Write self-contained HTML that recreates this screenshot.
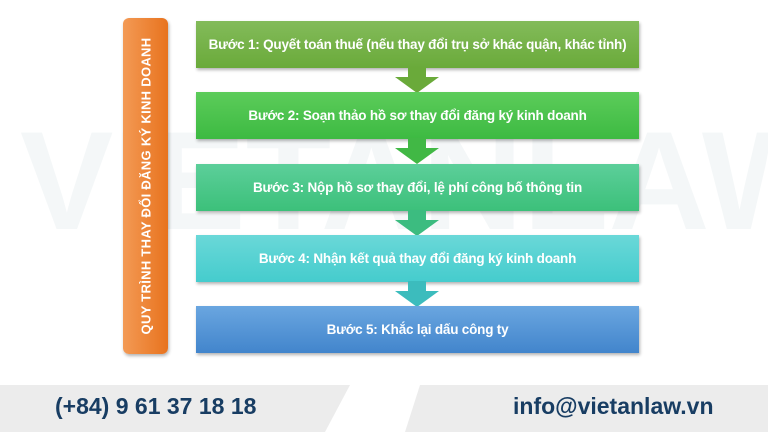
<!DOCTYPE html>
<html><head><meta charset="utf-8"><style>
html,body{margin:0;padding:0}
body{width:768px;height:432px;background:#fff;position:relative;overflow:hidden;font-family:"Liberation Sans",sans-serif}
.wm{position:absolute;left:0;top:0;width:768px;height:385px;overflow:hidden}
.wm div{position:absolute;left:20px;top:100px;font-size:140px;font-weight:bold;color:#f4f7f8;white-space:nowrap}
.box{position:absolute;left:196px;width:443px;height:47px;color:#fff;font-weight:bold;font-size:13.5px;display:flex;align-items:center;justify-content:center;box-shadow:1px 2px 3px rgba(0,0,0,.3);letter-spacing:-0.2px;white-space:nowrap}
.arr{position:absolute;left:395px;width:44px;height:26px}
.bar{position:absolute;left:123px;top:18px;width:45px;height:336px;border-radius:6px;background:linear-gradient(90deg,#f39a55,#e8731e);box-shadow:1px 2px 3px rgba(0,0,0,.3)}
.bar span{position:absolute;left:50%;top:50%;transform:translate(-50%,-50%) rotate(-90deg);white-space:nowrap;color:#fff;font-weight:bold;font-size:13px;letter-spacing:0.3px}
.foot{position:absolute;left:0;top:385px;width:768px;height:47px;background:#ececec}
.ft{position:absolute;top:393px;font-size:23px;font-weight:bold;color:#183d63;white-space:nowrap}
</style></head><body>
<div class="wm"><div>VIETANLAW</div></div>
<div class="bar"><span>QUY TRÌNH THAY ĐỔI ĐĂNG KÝ KINH DOANH</span></div>
<div class="box" style="top:21px;background:linear-gradient(#83bb5a,#6aaa3a)">Bước 1: Quyết toán thuế (nếu thay đổi trụ sở khác quận, khác tỉnh)</div>
<svg class="arr" style="top:67px" viewBox="0 0 44 26"><polygon points="13,0 31,0 31,10 44,10 22,26 0,10 13,10" fill="#6aaa3a"/></svg>
<div class="box" style="top:92px;background:linear-gradient(#5ccc5a,#3dba42)">Bước 2: Soạn thảo hồ sơ thay đổi đăng ký kinh doanh</div>
<svg class="arr" style="top:138px" viewBox="0 0 44 26"><polygon points="13,0 31,0 31,10 44,10 22,26 0,10 13,10" fill="#41b845"/></svg>
<div class="box" style="top:164px;background:linear-gradient(#5ccf9a,#3cc07a)">Bước 3: Nộp hồ sơ thay đổi, lệ phí công bố thông tin</div>
<svg class="arr" style="top:210px" viewBox="0 0 44 26"><polygon points="13,0 31,0 31,10 44,10 22,26 0,10 13,10" fill="#3cbc80"/></svg>
<div class="box" style="top:235px;background:linear-gradient(#6ad8d8,#45cccd)">Bước 4: Nhận kết quả thay đổi đăng ký kinh doanh</div>
<svg class="arr" style="top:281px" viewBox="0 0 44 26"><polygon points="13,0 31,0 31,10 44,10 22,26 0,10 13,10" fill="#3cbcbd"/></svg>
<div class="box" style="top:306px;background:linear-gradient(#6aa6e0,#4285cc)">Bước 5: Khắc lại dấu công ty</div>
<div class="foot"></div>
<svg style="position:absolute;left:0;top:385px" width="768" height="47"><polygon points="350,0 420,0 405,47 325,47" fill="#fff"/></svg>
<div class="ft" style="left:55px">(+84) 9 61 37 18 18</div>
<div class="ft" style="left:513px">info@vietanlaw.vn</div>
</body></html>
